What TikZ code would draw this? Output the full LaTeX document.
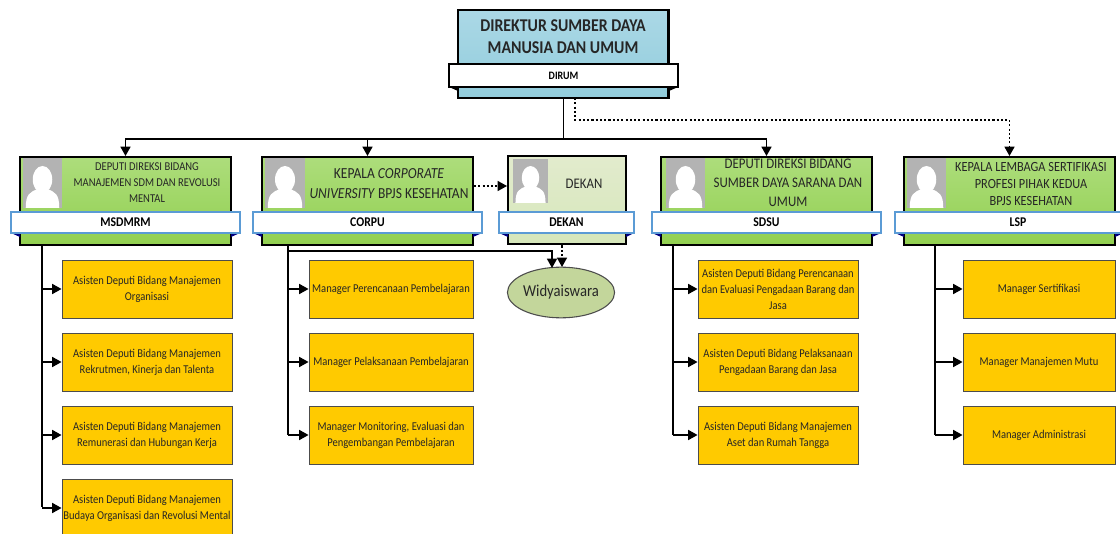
\documentclass[tikz,border=0pt]{standalone}
\usepackage{fontspec}
\setmainfont[FakeStretch=0.88]{Carlito}
\usetikzlibrary{arrows.meta,shapes.geometric}
\definecolor{gtop}{HTML}{ADDD7C}
\definecolor{gbot}{HTML}{92D050}
\definecolor{btop}{HTML}{ABD8E6}
\definecolor{bbot}{HTML}{92CDDC}
\definecolor{pale}{HTML}{E2EBCD}
\definecolor{ybox}{HTML}{FFCA00}
\definecolor{bandblue}{HTML}{5B9BD5}
\definecolor{ovalgreen}{HTML}{C3D69B}
\definecolor{photo}{HTML}{B3B3B3}
\tikzset{
  unitbox/.style={draw=black,line width=1.5pt,inner sep=0pt,top color=gtop,bottom color=gbot,minimum height=66pt},
  bandbox/.style={draw=bandblue,line width=1pt,fill=white,inner sep=0pt,minimum height=15.75pt,font=\fontsize{10}{12}\selectfont\bfseries},
  headtext/.style={inner sep=0pt,align=center,text=black!85},
  leaf/.style={draw=black!70,line width=0.7pt,fill=ybox,inner sep=0pt,minimum height=43.5pt,align=center,text=black!85,font=\fontsize{9}{12}\selectfont},
  conn/.style={draw=black,line width=1.1pt},
  arr/.style={conn,-{Triangle[width=7.5pt,length=7pt]}},
  dasharr/.style={draw=black,line width=1pt,dash pattern=on 1.6pt off 1.6pt,-{Triangle[width=7.5pt,length=7pt]}},
}
\newcommand{\personicon}[4]{%
  \begin{scope}[shift={(#1,#2)},x=#3*0.75pt,y=-#4*0.75pt]
    \fill[photo] (0,0) rectangle (1,1);
    \fill[white] (0.5,0.43) ellipse [x radius=0.25,y radius=0.27];
    \fill[white] (0.07,1) .. controls (0.07,0.72) and (0.18,0.68) .. (0.38,0.62)
      -- (0.62,0.62) .. controls (0.82,0.68) and (0.93,0.72) .. (0.93,1) -- cycle;
  \end{scope}}
\newcommand{\foldpair}[5]{%
  \fill[#5] (#1,233) -- (#2,233) -- (#2,237) -- cycle;
  \fill[#5] (#4,233) -- (#3,233) -- (#3,237) -- cycle;}
\begin{document}
\begin{tikzpicture}[x=0.75pt,y=-0.75pt]
\useasboundingbox (0,0) rectangle (1120,534);
\fill[white] (0,0) rectangle (1120,534);
\clip (0,0) rectangle (1120,534);

% director
\node[draw=black,line width=1.7pt,inner sep=0pt,top color=btop,bottom color=bbot,minimum width=158pt,minimum height=66pt] (dir) at (563.25,54) {};
\node[headtext,font=\fontsize{13.5}{16.5}\selectfont\bfseries] (dirT) at (563,37) {DIREKTUR SUMBER DAYA\\MANUSIA DAN UMUM};
\fill[black] (449,87) -- (458,87) -- (458,91) -- cycle;
\fill[black] (678,87) -- (669,87) -- (669,91) -- cycle;
\node[bandbox,draw=black,line width=1.5pt,minimum width=171.75pt,minimum height=17pt,font=\fontsize{8.5}{10}\selectfont\bfseries] (dirB) at (563.5,75.5) {DIRUM};

% unit boxes
\node[unitbox,minimum width=158.25pt] (msd) at (125.5,201) {};
\node[unitbox,minimum width=158.25pt] (cor) at (367.5,201) {};
\node[unitbox,minimum width=88.5pt,top color=pale,bottom color=pale!85!gbot] (dek) at (567,200.5) {};
\node[unitbox,minimum width=158.25pt] (sds) at (766.5,201) {};
\node[unitbox,minimum width=158.25pt] (lsp) at (1009.5,201) {};

\personicon{23}{158}{39}{50}
\personicon{265}{158}{40}{50}
\personicon{513}{159}{35}{44}
\personicon{666}{158}{39}{50}
\personicon{907}{158}{39}{50}

\node[headtext,font=\fontsize{9}{12}\selectfont] (msdT) at (147,183) {DEPUTI DIREKSI BIDANG\\MANAJEMEN SDM DAN REVOLUSI\\MENTAL};
\node[headtext,font=\fontsize{11.5}{15}\selectfont] (corT) at (389,184) {KEPALA \textit{CORPORATE}\\\textit{UNIVERSITY} BPJS KESEHATAN};
\node[headtext,font=\fontsize{11}{14}\selectfont] (dekT) at (584,184) {DEKAN};
\node[headtext,font=\fontsize{11}{14.25}\selectfont] (sdsT) at (788,183) {DEPUTI DIREKSI BIDANG\\SUMBER DAYA SARANA DAN\\UMUM};
\node[headtext,font=\fontsize{10.5}{12.75}\selectfont] (lspT) at (1031,184) {KEPALA LEMBAGA SERTIFIKASI\\PROFESI PIHAK KEDUA\\BPJS KESEHATAN};

\foldpair{11}{20}{231}{240}{blue!50!black}
\foldpair{253}{262}{473}{482}{blue!50!black}
\foldpair{499}{508}{626}{634}{blue!50!black}
\foldpair{652}{661}{872}{881}{blue!50!black}
\foldpair{895}{904}{1115}{1124}{blue!50!black}
\node[bandbox,minimum width=171.75pt] (msdB) at (125.5,222.5) {MSDMRM};
\node[bandbox,minimum width=171.75pt] (corB) at (367.5,222.5) {CORPU};
\node[bandbox,minimum width=101.25pt] (dekB) at (566.5,222.5) {DEKAN};
\node[bandbox,minimum width=171.75pt] (sdsB) at (766.5,222.5) {SDSU};
\node[bandbox,minimum width=184.5pt] (lspB) at (1018,222.5) {LSP};

% leaves
\node[leaf,minimum width=127.5pt] (m1) at (147,289) {Asisten Deputi Bidang Manajemen\\Organisasi};
\node[leaf,minimum width=127.5pt] (m2) at (147,362) {Asisten Deputi Bidang Manajemen\\Rekrutmen, Kinerja dan Talenta};
\node[leaf,minimum width=127.5pt] (m3) at (147,435) {Asisten Deputi Bidang Manajemen\\Remunerasi dan Hubungan Kerja};
\node[leaf,minimum width=127.5pt] (m4) at (147,508) {Asisten Deputi Bidang Manajemen\\Budaya Organisasi dan Revolusi Mental};
\node[leaf,minimum width=123pt] (c1) at (391,289) {Manager Perencanaan Pembelajaran};
\node[leaf,minimum width=123pt] (c2) at (391,362) {Manager Pelaksanaan Pembelajaran};
\node[leaf,minimum width=123pt] (c3) at (391,435) {Manager Monitoring, Evaluasi dan\\Pengembangan Pembelajaran};
\node[leaf,minimum width=120pt] (s1) at (778,289) {Asisten Deputi Bidang Perencanaan\\dan Evaluasi Pengadaan Barang dan\\Jasa};
\node[leaf,minimum width=120pt] (s2) at (778,362) {Asisten Deputi Bidang Pelaksanaan\\Pengadaan Barang dan Jasa};
\node[leaf,minimum width=120pt] (s3) at (778,435) {Asisten Deputi Bidang Manajemen\\Aset dan Rumah Tangga};
\node[leaf,minimum width=114pt] (l1) at (1039,289) {Manager Sertifikasi};
\node[leaf,minimum width=114pt] (l2) at (1039,362) {Manager Manajemen Mutu};
\node[leaf,minimum width=114pt] (l3) at (1039,435) {Manager Administrasi};

\node[draw=black!70,line width=0.8pt,fill=ovalgreen,ellipse,inner sep=0pt,minimum width=79.5pt,minimum height=38pt,font=\fontsize{12.5}{14}\selectfont,text=black!85] (wid) at (561,292.5) {Widyaiswara};

% top connectors
\coordinate (bus) at (dir.south |- 0,139);
\coordinate (dashTurn) at (575,120);
\coordinate (dashStart) at (575,98);
\draw[conn] (dir.south) -- (bus);
\draw[arr] (bus) -| (msd.north);
\draw[arr] (bus) -| (cor.north);
\draw[arr] (bus) -| (sds.north);
\draw[dasharr] (dashStart) -- (dashTurn) -| (lsp.north);
\draw[dasharr] (cor.east |- 0,186) -- (dek.west |- 0,186);

% trunks
\coordinate (mt) at (42,245.5);
\coordinate (ct) at (288,245.5);
\coordinate (st) at (673,245.5);
\coordinate (lt) at (935,245.5);
\draw[conn] (mt) -- (42,507);
\draw[conn] (ct) -- (288,435);
\draw[conn] (st) -- (673,435);
\draw[conn] (lt) -- (935,435);
\foreach \t/\k in {42/m1,42/m2,42/m3,42/m4,288/c1,288/c2,288/c3,673/s1,673/s2,673/s3,935/l1,935/l2,935/l3}
  \draw[arr] (\t,0 |- \k.west) -- (\k.west);

% widyaiswara
\coordinate (wa) at (288,251);
\coordinate (wb) at (552,268);
\coordinate (da) at (562,245.5);
\coordinate (db) at (562,267);
\draw[arr] (wa) -| (wb);
\draw[dasharr] (da) -- (db);
\end{tikzpicture}
\end{document}
